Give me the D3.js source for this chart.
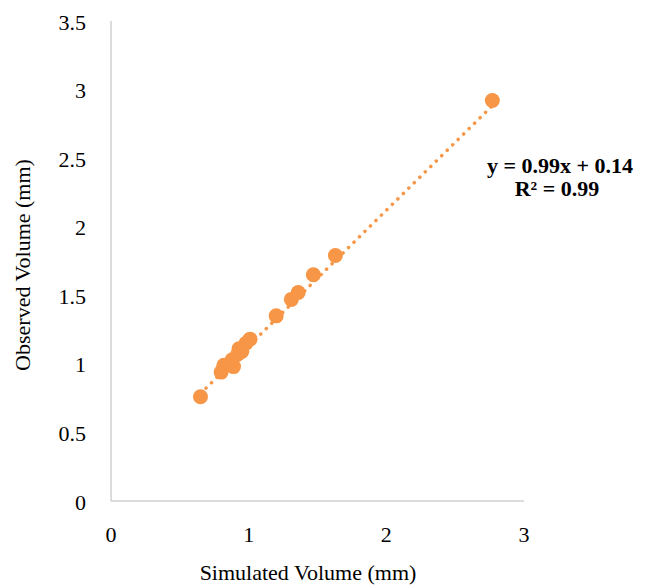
<!DOCTYPE html>
<html>
<head>
<meta charset="utf-8">
<script src="https://cdn.jsdelivr.net/npm/d3@7"></script>
<style>
  html, body { margin: 0; padding: 0; background: #fff; }
  svg { display: block; }
  text { font-family: "Liberation Serif", "Times New Roman", serif; fill: #000; }
</style>
</head>
<body>
<svg id="chart" width="646" height="585"></svg>
<script>
// Simulated vs observed volume (mm)
const simulated = [0.65, 0.80, 0.82, 0.89, 0.88, 0.92, 0.95, 0.93, 0.98, 1.01, 1.20, 1.31, 1.36, 1.47, 1.63, 2.77];
const observed  = [0.76, 0.94, 0.99, 0.98, 1.03, 1.07, 1.09, 1.11, 1.15, 1.18, 1.35, 1.47, 1.52, 1.65, 1.79, 2.92];
const xTicks = [0, 1, 2, 3];
const yTicks = [0, 0.5, 1, 1.5, 2, 2.5, 3, 3.5];
const slope = 0.99, intercept = 0.14, r2 = 0.99;

const svg = d3.select("#chart");
const x = d3.scaleLinear().domain([0, 3]).range([111, 524]);
const y = d3.scaleLinear().domain([0, 3.5]).range([501, 21]);
const orange = "#F79646";
const axisGrey = "#d0d0d0";
const fs = 22;

// axis lines
svg.append("line").attr("x1", x(0)).attr("x2", x(3)).attr("y1", y(0)).attr("y2", y(0))
  .attr("stroke", axisGrey).attr("stroke-width", 1.5);
svg.append("line").attr("x1", x(0)).attr("x2", x(0)).attr("y1", y(0)).attr("y2", y(3.5))
  .attr("stroke", axisGrey).attr("stroke-width", 1.5);

// tick labels
svg.selectAll(".xt").data(xTicks).join("text").attr("class", "xt")
  .attr("x", d => x(d)).attr("y", 542).attr("text-anchor", "middle")
  .attr("font-size", fs).text(d => d);
svg.selectAll(".yt").data(yTicks).join("text").attr("class", "yt")
  .attr("x", 86).attr("y", d => y(d) + 8.5).attr("text-anchor", "end")
  .attr("font-size", fs).text(d => d);

// axis titles
svg.append("text").attr("x", 308).attr("y", 580).attr("text-anchor", "middle")
  .attr("font-size", fs).text("Simulated Volume (mm)");
svg.append("text").attr("transform", "translate(30,265) rotate(-90)").attr("text-anchor", "middle")
  .attr("font-size", fs).text("Observed Volume (mm)");

// linear trendline
const x0 = d3.min(simulated), x1 = d3.max(simulated);
svg.append("line")
  .attr("x1", x(x0)).attr("y1", y(slope * x0 + intercept))
  .attr("x2", x(x1)).attr("y2", y(slope * x1 + intercept))
  .attr("stroke", orange).attr("stroke-width", 3.5)
  .attr("stroke-linecap", "round").attr("stroke-dasharray", "0.1 7.6");

// observations
svg.selectAll(".pt").data(simulated).join("circle").attr("class", "pt")
  .attr("cx", d => x(d)).attr("cy", (d, i) => y(observed[i]))
  .attr("r", 7.5).attr("fill", orange);

// equation label
const eq = svg.append("text").attr("text-anchor", "middle").attr("font-weight", "bold").attr("font-size", fs);
eq.append("tspan").attr("x", 560).attr("y", 173).text(`y = ${slope}x + ${intercept}`);
eq.append("tspan").attr("x", 557).attr("y", 196).text(`R² = ${r2}`);
</script>
</body>
</html>
